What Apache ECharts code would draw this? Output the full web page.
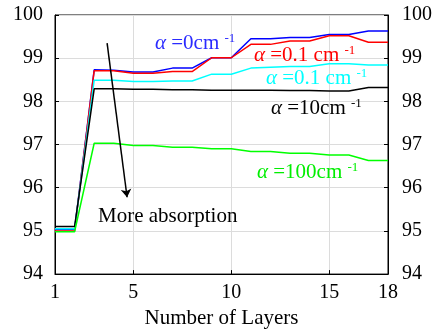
<!DOCTYPE html>
<html><head><meta charset="utf-8">
<script src="https://cdn.jsdelivr.net/npm/echarts@6/dist/echarts.min.js"></script>
<style>html,body{margin:0;padding:0;background:#fff}#c{width:435px;height:334px}</style>
</head><body><div id="c"></div>
<script>
const layers = [1,2,3,4,5,6,7,8,9,10,11,12,13,14,15,16,17,18];
const xTickLabels = [1,5,10,15,18];
const yTicks = [94,95,96,97,98,99,100];
const alpha0 = [95.03,95.03,98.73,98.72,98.68,98.68,98.77,98.77,99.01,99.01,99.45,99.45,99.48,99.48,99.55,99.55,99.63,99.63];
const alpha01red = [95.0,95.0,98.71,98.71,98.65,98.65,98.69,98.69,99.01,99.01,99.32,99.32,99.40,99.40,99.52,99.52,99.37,99.37];
const alpha01cyan = [95.05,95.05,98.49,98.49,98.46,98.46,98.47,98.47,98.63,98.63,98.77,98.79,98.81,98.81,98.87,98.87,98.84,98.84];
const alpha10 = [95.1,95.1,98.29,98.29,98.28,98.28,98.27,98.27,98.26,98.26,98.26,98.26,98.25,98.25,98.24,98.24,98.32,98.32];
const alpha100 = [94.98,94.98,97.03,97.03,96.98,96.98,96.94,96.94,96.90,96.90,96.84,96.84,96.80,96.80,96.76,96.76,96.63,96.63];
const arrowX = [3.66, 4.68];
const arrowY = [99.35, 95.78];

const FONT = '"Liberation Serif","Times New Roman",serif';
const chart = echarts.init(document.getElementById('c'), null, {renderer:'canvas'});
function lbl(txt, color, left, top){
  return {type:'text', left:left, top:top, z:100,
    style:{text:txt, fill:color, font:'21px '+FONT,
      rich:{
        a:{fontStyle:'italic', fontSize:21, fontFamily:FONT, fill:color, lineHeight:22},
        t:{fontSize:21, fontFamily:FONT, fill:color, lineHeight:22},
        s:{fontSize:13, fontFamily:FONT, fill:color, verticalAlign:'top', lineHeight:22}
      }}};
}
const lineS = (name, data, color) => ({type:'line', name, data, xAxisIndex:0, yAxisIndex:0,
  showSymbol:false, symbol:'none', lineStyle:{color, width:1.5}, itemStyle:{color}, animation:false});
chart.setOption({
  animation:false,
  grid:{left:55, right:47, top:15, bottom:56, show:true, borderColor:'#000', borderWidth:1, backgroundColor:'transparent'},
  xAxis:[{
    type:'category', data:layers, boundaryGap:false,
    name:'Number of Layers', nameLocation:'middle', nameGap:33,
    nameTextStyle:{fontFamily:FONT, fontSize:21, color:'#000'},
    axisLine:{lineStyle:{color:'#000', width:1}},
    axisTick:{inside:true, length:4, lineStyle:{color:'#000'}, interval:(i,v)=>xTickLabels.includes(+v)},
    axisLabel:{fontFamily:FONT, fontSize:20, color:'#000', margin:9, interval:(i,v)=>xTickLabels.includes(+v)},
    splitLine:{show:true, lineStyle:{color:'#dcdcdc', width:1}, interval:(i,v)=>[5,10,15].includes(+v)}
  },{
    type:'value', min:1, max:18, show:false
  }],
  yAxis:[{
    type:'value', min:yTicks[0], max:yTicks[yTicks.length-1], interval:1, position:'left',
    axisLine:{show:true, lineStyle:{color:'#000'}},
    axisTick:{show:true, inside:true, length:4, lineStyle:{color:'#000'}},
    axisLabel:{fontFamily:FONT, fontSize:20, color:'#000', margin:12},
    splitLine:{show:true, lineStyle:{color:'#dcdcdc', width:1}}
  },{
    type:'value', min:yTicks[0], max:yTicks[yTicks.length-1], interval:1, position:'right',
    axisLine:{show:true, lineStyle:{color:'#000'}},
    axisTick:{show:true, inside:true, length:4, lineStyle:{color:'#000'}},
    axisLabel:{fontFamily:FONT, fontSize:20, color:'#000', margin:14},
    splitLine:{show:false}
  }],
  series:[
    lineS('a0', alpha0, '#0000ff'),
    lineS('a01r', alpha01red, '#ff0000'),
    lineS('a01c', alpha01cyan, '#00ffff'),
    lineS('a10', alpha10, '#000000'),
    lineS('a100', alpha100, '#00ff00'),
    {type:'lines', coordinateSystem:'cartesian2d', xAxisIndex:1, yAxisIndex:0,
     symbol:['none','arrow'], symbolSize:[0,8],
     lineStyle:{color:'#000', width:1.5, opacity:1},
     data:[{coords:[[arrowX[0],arrowY[0]],[arrowX[1],arrowY[1]]]}], animation:false, z:10}
  ],
  graphic:[
    lbl('{a|α}{t| =0cm }{s|-1}', '#2a2aff', 155, 32),
    lbl('{a|α}{t| =0.1 cm }{s|-1}', '#ff0000', 254, 44),
    lbl('{a|α}{t| =0.1 cm }{s|-1}', '#00ffff', 266, 67),
    lbl('{a|α}{t| =10cm }{s|-1}', '#000000', 271, 97),
    lbl('{a|α}{t| =100cm }{s|-1}', '#00ee00', 257, 161),
    {type:'text', left:98, top:206, z:100, style:{text:'More absorption', fill:'#000', font:'21px '+FONT}}
  ]
});
</script></body></html>
